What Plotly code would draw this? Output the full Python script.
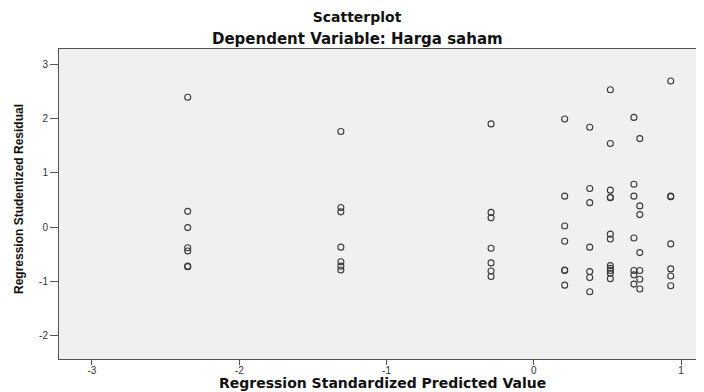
import plotly.graph_objects as go

# Predicted-value columns (standardized) and studentized residuals
col_x = [-2.35, -1.31, -0.29, 0.21, 0.38, 0.52, 0.68, 0.72, 0.93]
res_m235 = [2.39, 0.29, -0.01, -0.38, -0.44, -0.72, -0.73]
res_m131 = [1.76, 0.36, 0.28, -0.37, -0.64, -0.72, -0.79]
res_m029 = [1.90, 0.27, 0.17, -0.39, -0.66, -0.81, -0.91]
res_p021 = [1.99, 0.57, 0.02, -0.26, -0.79, -0.80, -1.07]
res_p038 = [1.84, 0.71, 0.45, -0.37, -0.82, -0.93, -1.19]
res_p052 = [2.53, 1.54, 0.68, 0.54, 0.55, -0.13, -0.22, -0.71, -0.76, -0.80, -0.85, -0.95]
res_p068 = [2.02, 0.79, 0.57, -0.20, -0.80, -0.88, -1.05]
res_p072 = [1.63, 0.39, 0.23, -0.47, -0.80, -0.96, -1.14]
res_p093 = [2.69, 0.56, 0.57, -0.31, -0.77, -0.90, -1.08]

residual_groups = [res_m235, res_m131, res_m029, res_p021, res_p038,
                   res_p052, res_p068, res_p072, res_p093]

x_ticks = [-3, -2, -1, 0, 1]
y_ticks = [-2, -1, 0, 1, 2, 3]

xs, ys = [], []
for cx, grp in zip(col_x, residual_groups):
    for r in grp:
        xs.append(cx)
        ys.append(r)

fig = go.Figure()
fig.add_trace(go.Scatter(
    x=xs, y=ys, mode="markers",
    marker=dict(symbol="circle-open", size=6, color="#3a3a3a",
                line=dict(width=1.1, color="#3a3a3a")),
    hoverinfo="x+y", showlegend=False,
))

axis_font = dict(family="Liberation Sans, Arial, sans-serif", size=10, color="#333333")
bold_font = "DejaVu Sans, sans-serif"

# page body adds an 8px offset; figure sized to fill the remaining viewport
W, H = 696, 384
L, R, T, B = 51, 0, 41, 33
PW, PH = W - L - R, H - T - B

fig.update_layout(
    template="none",
    width=W, height=H,
    margin=dict(l=L, r=R, t=T, b=B, autoexpand=False),
    paper_bgcolor="white",
    plot_bgcolor="#F0F0F0",
    title=dict(text="<b>Scatterplot</b>", x=349 / W, xref="container", xanchor="center",
               y=1 - 9 / H, yref="container", yanchor="middle",
               font=dict(family=bold_font, size=14, color="#111111")),
    annotations=[
        dict(text="<b>Dependent Variable: Harga saham</b>",
             x=(349 - L) / PW, xref="paper", xanchor="center",
             y=1 + (T - 31) / PH, yref="paper", yanchor="middle", showarrow=False,
             font=dict(family=bold_font, size=15, color="#111111")),
        dict(text="<b>Regression Standardized Predicted Value</b>",
             x=(374 - L) / PW, xref="paper", xanchor="center",
             y=-(375 - (H - B)) / PH, yref="paper", yanchor="middle", showarrow=False,
             font=dict(family=bold_font, size=14, color="#111111")),
        dict(text="<b>Regression Studentized Residual</b>", textangle=-90,
             x=(11 - L) / PW, xref="paper", xanchor="center",
             y=1 - (191 - T) / PH, yref="paper", yanchor="middle", showarrow=False,
             font=dict(family="Liberation Sans, Arial, sans-serif", size=12, color="#111111")),
    ],
    xaxis=dict(
        range=[-3.224, 1.156], tickvals=x_ticks, ticktext=[str(t) for t in x_ticks],
        showgrid=False, zeroline=False, automargin=False,
        showline=True, linecolor="#555555", linewidth=1, mirror=True,
        ticks="outside", ticklen=5, tickcolor="#555555", tickfont=axis_font,
        ticklabelstandoff=-3,
    ),
    yaxis=dict(
        range=[-2.43, 3.28], tickvals=y_ticks, ticktext=[str(t) for t in y_ticks],
        showgrid=False, zeroline=False, automargin=False,
        showline=True, linecolor="#555555", linewidth=1,
        ticks="outside", ticklen=8, tickcolor="#555555", tickfont=axis_font,
    ),
)

fig.write_html("out.html")
